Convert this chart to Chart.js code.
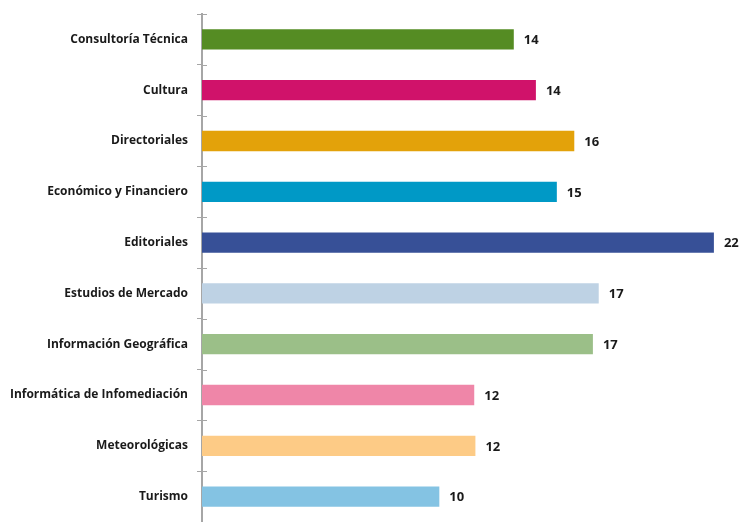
<!DOCTYPE html>
<html lang="es">
<head>
    <meta charset="UTF-8">
    <title>Categorías</title>
    <style>
        body {
            margin: 0;
            background-color: #FFFFFF;
            font-family: "Open Sans", Arial, sans-serif;
        }
        .chart-container {
            width: 740px;
            height: 522px;
            position: relative;
        }
    </style>
</head>
<body>
    <div class="chart-container">
        <canvas id="barChart"></canvas>
    </div>

    <script src="https://cdn.jsdelivr.net/npm/chart.js"></script>
    <script>
        const categories = ['Consultoría Técnica', 'Cultura', 'Directoriales', 'Económico y Financiero', 'Editoriales',
            'Estudios de Mercado', 'Información Geográfica', 'Informática de Infomediación', 'Meteorológicas', 'Turismo'];
        // bar lengths
        const values = [13.4, 14.35, 16.0, 15.25, 22, 17.05, 16.8, 11.7, 11.75, 10.2];
        // numbers printed next to each bar
        const valueLabels = ['14', '14', '16', '15', '22', '17', '17', '12', '12', '10'];
        const barColors = ['#558c23', '#d0126a', '#e3a20a', '#0099c6', '#375097',
            '#bed2e4', '#9bbf88', '#ef86a8', '#fdcb86', '#84c3e3'];

        const labelFont = '"Open Sans", Arial, sans-serif';

        // value labels to the right of each bar
        const valueLabelPlugin = {
            id: 'valueLabels',
            afterDatasetsDraw(chart) {
                const ctx = chart.ctx;
                const meta = chart.getDatasetMeta(0);
                ctx.save();
                ctx.font = 'bold 13px ' + labelFont;
                ctx.fillStyle = '#1a1a1a';
                ctx.textAlign = 'left';
                ctx.textBaseline = 'middle';
                meta.data.forEach((bar, i) => {
                    ctx.fillText(valueLabels[i], bar.x + 10, bar.y + 1);
                });
                ctx.restore();
            }
        };

        // small tick marks crossing to the right of the axis
        const crossTickPlugin = {
            id: 'crossTicks',
            afterDraw(chart) {
                const ctx = chart.ctx;
                const y = chart.scales.y;
                const left = chart.chartArea.left;
                ctx.save();
                ctx.strokeStyle = '#a6a6a6';
                ctx.lineWidth = 1;
                for (let i = 0; i <= categories.length; i++) {
                    const py = Math.round(y.getPixelForValue(i - 0.5)) + 0.5;
                    ctx.beginPath();
                    ctx.moveTo(left, py);
                    ctx.lineTo(left + 5, py);
                    ctx.stroke();
                }
                ctx.restore();
            }
        };

        const ctx = document.getElementById('barChart').getContext('2d');

        new Chart(ctx, {
            type: 'bar',
            data: {
                labels: categories,
                datasets: [{
                    data: values,
                    backgroundColor: barColors,
                    borderWidth: 0,
                    barPercentage: 0.8,
                    categoryPercentage: 0.5
                }]
            },
            options: {
                indexAxis: 'y',
                responsive: true,
                maintainAspectRatio: false,
                animation: false,
                layout: {
                    padding: { top: 14, right: 4, bottom: 0, left: 0 }
                },
                plugins: {
                    legend: { display: false },
                    tooltip: { enabled: false }
                },
                scales: {
                    x: {
                        display: false,
                        min: 0,
                        max: 22.95
                    },
                    y: {
                        afterFit(scale) {
                            scale.width = 202;
                            scale.paddingTop = 0;
                            scale.paddingBottom = 0;
                        },
                        grid: {
                            offset: true,
                            drawOnChartArea: false,
                            tickLength: 5,
                            color: '#a6a6a6'
                        },
                        border: {
                            display: true,
                            color: '#a6a6a6',
                            width: 2
                        },
                        ticks: {
                            padding: 9,
                            color: '#1a1a1a',
                            font: { family: labelFont, size: 12, weight: 'bold' }
                        }
                    }
                }
            },
            plugins: [valueLabelPlugin, crossTickPlugin]
        });
    </script>
</body>
</html>
